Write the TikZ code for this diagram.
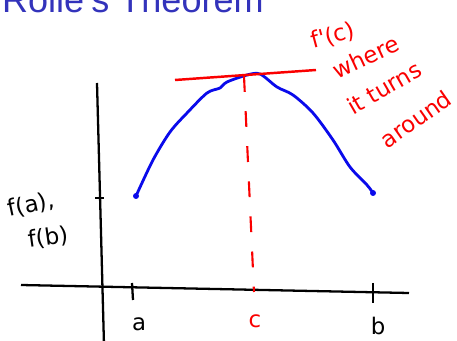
\documentclass[tikz,border=0pt]{standalone}
\usepackage{fontspec}
\setmainfont{Liberation Sans}
\newfontfamily\handfont{DejaVu Sans}
\definecolor{titleblue}{RGB}{51,51,187}
\definecolor{penblue}{RGB}{10,10,235}
\definecolor{penred}{RGB}{250,0,0}
\tikzset{
  axis/.style={line width=1.3pt, black},
  tick/.style={line width=1.3pt, black},
  hand/.style={font=\handfont\fontsize{13}{13}\selectfont, inner sep=0pt},
  redhand/.style={hand, text=penred},
}
\begin{document}
\begin{tikzpicture}[x=0.02cm, y=-0.02cm]
\useasboundingbox (0,0) rectangle (457,341);
\clip (0,0) rectangle (457,341);
\node[anchor=base east, text=titleblue, font=\fontsize{20.5}{20.5}\selectfont, inner sep=0pt] (title) at (264,13) {Rolle's Theorem};
% axes
\coordinate (ytop) at (97,83);
\coordinate (ybot) at (104,345);
\coordinate (xleft) at (21,285);
\coordinate (xright) at (409,293);
\draw[axis] (ytop) -- (ybot);
\draw[axis] (xleft) -- (xright);
\draw[tick] (95,198) -- (104,198);
\draw[tick] (132,283) -- (133,300);
\draw[tick] (373,283) -- (373,303);
\node[hand] (a) at (139,324) {a};
\node[hand] (b) at (378,326) {b};
\node[redhand] (c) at (255,321) {c};
\node[hand, rotate=12] (fa) at (31,205) {f(a),};
\node[hand, rotate=8] (fb) at (48,238) {f(b)};
% the curve
\coordinate (pa) at (136,196);
\coordinate (pb) at (373,193);
\draw[penblue, line width=1.6pt, line join=round] plot[smooth, tension=0.5] coordinates {
  (pa) (153,160) (170,132) (187,113) (207,93) (220,88) (227,82) (247,75)
  (260,74) (277,87) (293,95) (313,113) (333,140) (350,167) (367,185) (pb)};
\fill[penblue] (pa) circle (3);
\fill[penblue] (pb) circle (3);
% tangent and c
\coordinate (top) at (244,76);
\coordinate (cfoot) at (254,292);
\draw[penred, line width=1.4pt] (175,80) -- (316,70);
\draw[penred, line width=1.2pt, dash pattern=on 9pt off 11pt] (top) -- (cfoot);
\node[redhand, rotate=15] (fc) at (333,36) {f'(c)};
\node[redhand, rotate=25] (where) at (366,57) {where};
\node[redhand, rotate=30] (turns) at (384,88) {it turns};
\node[redhand, rotate=35] (around) at (416,119) {around};
\end{tikzpicture}
\end{document}
